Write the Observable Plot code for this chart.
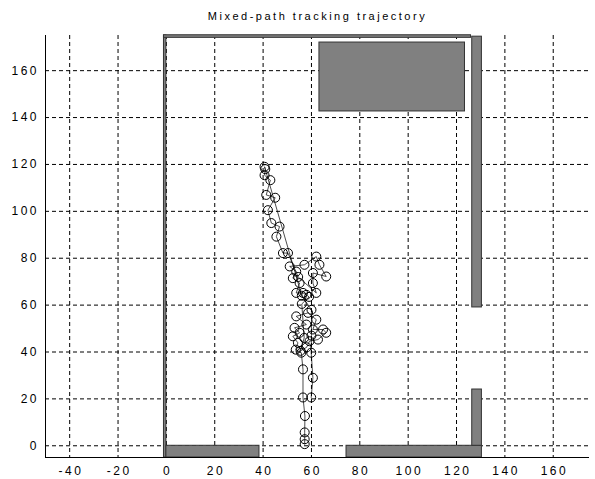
<!DOCTYPE html>
<html><head><meta charset="utf-8">
<script src="https://cdn.jsdelivr.net/npm/d3@7"></script>
<script src="https://cdn.jsdelivr.net/npm/@observablehq/plot@0.6"></script>
<style>body{margin:0;background:#fff}</style>
</head><body><div id="chart"></div>
<script>
const title = "Mixed-path tracking trajectory";
const xTicks = [-40, -20, 0, 20, 40, 60, 80, 100, 120, 140, 160];
const yTicks = [0, 20, 40, 60, 80, 100, 120, 140, 160];

// trajectory samples
const trajX = [57.2,57.2,57.2,57.3,56.5,56.5,55.8,53.5,54.4,52.3,55.1,53.0,57.9,53.7,58.6,62.0,60.6,64.8,66.1,62.7,59.2,58.0,55.5,57.0,56.0,59.0,57.9,56.5,53.7,55.1,52.3,53.7,51.0,57.1,62.0,63.3,66.1,60.6,60.6,62.0,54.5,50.3,48.2,45.5,46.8,43.4,42.0,45.0,41.3,43.0,40.6,40.9,40.6,56.0,60.0,60.0,59.9,60.6,59.9];
const trajY = [0.7,2.8,5.7,12.7,20.6,32.6,39.7,41.0,43.9,46.7,48.2,50.3,51.7,55.2,56.7,53.8,49.6,49.6,48.2,45.3,44.6,42.0,40.5,46.0,60.5,63.5,64.4,65.2,65.2,69.4,71.5,74.3,76.5,77.2,80.7,77.2,72.2,73.7,69.4,65.2,72.0,82.2,82.2,89.2,93.5,95.0,100.5,105.8,107.0,113.3,115.4,118.0,119.0,64.0,58.0,47.0,39.7,29.0,20.6];

// walls and obstacle rectangles
const wallX1 = [-1, 0, 74.5, 126.5, 126.5, -1, 63.3];
const wallX2 = [0, 38.5, 130.5, 130.5, 130.5, 126, 123.5];
const wallY1 = [-5, -5, -5, 0, 59, 174, 142.6];
const wallY2 = [175, 0, 0, 24, 174.5, 175.1, 172];

const traj = trajX.map((x, i) => ({x, y: trajY[i]}));
const walls = wallX1.map((x1, i) => ({x1, x2: wallX2[i], y1: wallY1[i], y2: wallY2[i]}));

const plot = Plot.plot({
  width: 595, height: 479,
  marginLeft: 45, marginRight: 6, marginTop: 35, marginBottom: 22,
  x: {domain: [-50, 175]},
  y: {domain: [-5, 175]},
  style: {fontFamily: "'Liberation Sans', Arial, sans-serif", fontSize: "12px", background: "#fff", color: "#000", letterSpacing: "2.5px"},
  marks: [
    Plot.ruleX(xTicks, {stroke: "#000", strokeDasharray: "4,3", strokeWidth: 1}),
    Plot.ruleY(yTicks, {stroke: "#000", strokeDasharray: "4,3", strokeWidth: 1}),
    Plot.rect(walls, {x1: "x1", x2: "x2", y1: "y1", y2: "y2", fill: "#808080", stroke: "#333", strokeWidth: 1}),
    Plot.line(traj, {x: "x", y: "y", stroke: "#000", strokeWidth: 0.7}),
    Plot.dot(traj, {x: "x", y: "y", r: 4.5, stroke: "#000", fill: "none", strokeWidth: 1}),
    Plot.ruleX([-50], {stroke: "#000"}),
    Plot.ruleY([-5], {stroke: "#000"}),
    Plot.axisX(xTicks, {tickSize: 0, tickPadding: 9, label: null, dx: 1.2, tickFormat: d => String(d)}),
    Plot.axisY(yTicks, {tickSize: 0, tickPadding: 6.5, label: null, tickFormat: d => String(d)}),
    Plot.text([title], {frameAnchor: "top", lineAnchor: "bottom", dy: -16, fontSize: 11, fill: "#000"})
  ]
});
d3.select(plot).selectAll('g[aria-label="text"] text').attr("letter-spacing", "2.5px");
document.getElementById("chart").appendChild(plot);
</script>
</body></html>
